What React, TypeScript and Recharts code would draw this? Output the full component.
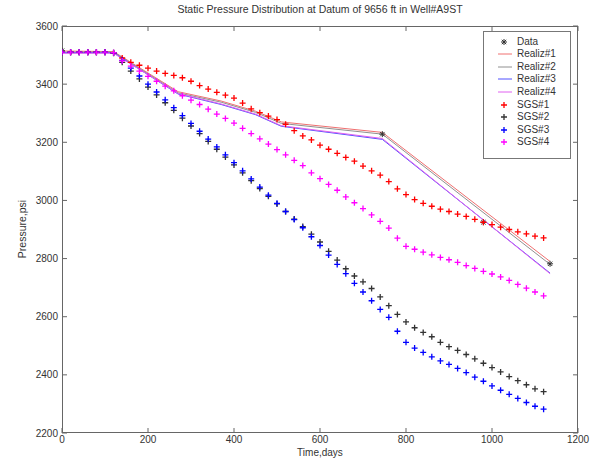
import React from 'react';
import { ComposedChart, Line, Scatter, XAxis, YAxis } from 'recharts';

const FONT = '"Liberation Sans", Arial, Helvetica, sans-serif';

// time grid of the simulated (SGS) series, days
const days = [
  0, 20, 40, 60, 80, 100, 120, 140, 160, 180, 200, 220, 240, 260, 280, 300, 320, 340, 360, 380,
  400, 420, 440, 460, 480, 500, 520, 540, 560, 580, 600, 620, 640, 660, 680, 700, 720, 740, 760, 780,
  800, 820, 840, 860, 880, 900, 920, 940, 960, 980, 1000, 1020, 1040, 1060, 1080, 1100, 1120,
];

const sgs1 = [
  3510, 3510, 3510, 3510, 3510, 3510, 3508, 3490, 3475, 3465, 3455, 3445, 3437, 3430, 3422, 3410, 3395, 3383, 3372, 3362,
  3352, 3335, 3315, 3302, 3290, 3278, 3262, 3240, 3222, 3208, 3190, 3176, 3162, 3148, 3135, 3118, 3102, 3087, 3065, 3040,
  3020, 3003, 2990, 2980, 2970, 2962, 2953, 2945, 2935, 2925, 2917, 2908, 2900, 2892, 2885, 2877, 2871,
];
const sgs2 = [
  3510, 3510, 3510, 3510, 3510, 3510, 3506, 3475, 3445, 3418, 3390, 3363, 3336, 3310, 3283, 3256, 3230, 3203, 3176, 3149,
  3122, 3095, 3068, 3041, 3014, 2988, 2962, 2936, 2910, 2884, 2857, 2825, 2795, 2765, 2740, 2720, 2697, 2668, 2638, 2608,
  2582, 2562, 2546, 2531, 2512, 2497, 2484, 2470, 2455, 2440, 2425, 2410, 2394, 2380, 2366, 2352, 2342,
];
const sgs3 = [
  3510, 3510, 3510, 3510, 3510, 3510, 3508, 3482, 3455, 3428, 3400, 3373, 3346, 3319, 3292, 3265, 3238, 3211, 3184, 3157,
  3130, 3102, 3074, 3046, 3018, 2990, 2962, 2934, 2906, 2875, 2845, 2812, 2780, 2748, 2715, 2685, 2655, 2625, 2598, 2550,
  2512, 2492, 2477, 2462, 2448, 2436, 2422, 2408, 2392, 2378, 2362, 2347, 2333, 2319, 2305, 2292, 2282,
];
const sgs4 = [
  3510, 3510, 3510, 3510, 3510, 3510, 3508, 3480, 3462, 3445, 3427, 3410, 3393, 3377, 3360, 3345, 3330, 3314, 3297, 3282,
  3266, 3248, 3230, 3212, 3194, 3175, 3157, 3138, 3120, 3095, 3075, 3055, 3035, 3012, 2992, 2972, 2950, 2928, 2905, 2870,
  2842, 2832, 2822, 2813, 2804, 2796, 2787, 2776, 2766, 2756, 2747, 2737, 2725, 2711, 2698, 2685, 2672,
];

// realization lines
const realizDays = [0, 120, 270, 370, 450, 510, 745, 1135];
const realiz1 = [3514, 3512, 3374, 3342, 3307, 3270, 3234, 2790];
const realiz2 = [3510, 3510, 3370, 3338, 3303, 3265, 3228, 2780];
const realiz3 = [3508, 3508, 3366, 3330, 3295, 3255, 3210, 2750];
const realiz4 = [3506, 3506, 3368, 3332, 3297, 3257, 3213, 2748];

// measured data
const dataDays = [0, 745, 980, 1135];
const dataPressure = [3515, 3228, 2925, 2782];

const xTicks = [0, 200, 400, 600, 800, 1000, 1200];
const yTicks = [2200, 2400, 2600, 2800, 3000, 3200, 3400, 3600];

const toPoints = (xs: number[], ys: number[]) => xs.map((x, i) => ({ x, y: ys[i] }));

const sgsSeries = [
  { name: 'SGS#1', values: sgs1, color: '#ff0000' },
  { name: 'SGS#2', values: sgs2, color: '#333333' },
  { name: 'SGS#3', values: sgs3, color: '#0000ff' },
  { name: 'SGS#4', values: sgs4, color: '#ff00ff' },
];
const realizSeries = [
  { name: 'Realiz#1', values: realiz1, color: '#f07070' },
  { name: 'Realiz#2', values: realiz2, color: '#909090' },
  { name: 'Realiz#3', values: realiz3, color: '#5050ff' },
  { name: 'Realiz#4', values: realiz4, color: '#e060f0' },
];

// plot frame (MATLAB box)
const PLOT = { left: 62, top: 26, right: 578, bottom: 433 };
const AXIS_COLOR = '#666';

function Plus(props: any) {
  const { cx, cy, fill } = props;
  if (cx == null || cy == null) return null;
  return <path d={`M${cx - 3},${cy}h6M${cx},${cy - 3}v6`} stroke={fill} strokeWidth={1.3} fill="none" />;
}

function Star(props: any) {
  const { cx, cy, fill } = props;
  if (cx == null || cy == null) return null;
  return (
    <path
      d={`M${cx - 3},${cy}h6M${cx},${cy - 3}v6M${cx - 2.2},${cy - 2.2}l4.4,4.4M${cx - 2.2},${cy + 2.2}l4.4,-4.4`}
      stroke={fill}
      strokeWidth={1}
      fill="none"
    />
  );
}

// bottom tick: label + inward tick at bottom and top of the box
function XTick(props: any) {
  const { x, payload } = props;
  return (
    <g>
      <line x1={x} x2={x} y1={PLOT.bottom} y2={PLOT.bottom - 5} stroke={AXIS_COLOR} />
      <line x1={x} x2={x} y1={PLOT.top} y2={PLOT.top + 5} stroke={AXIS_COLOR} />
      <text x={x} y={PLOT.bottom + 3} dy="0.71em" textAnchor="middle" fontSize={10} fill="#333" fontFamily={FONT}>
        {payload.value}
      </text>
    </g>
  );
}

// left tick: label + inward tick at left and right of the box
function YTick(props: any) {
  const { y, payload } = props;
  return (
    <g>
      <line x1={PLOT.left} x2={PLOT.left + 5} y1={y} y2={y} stroke={AXIS_COLOR} />
      <line x1={PLOT.right} x2={PLOT.right - 5} y1={y} y2={y} stroke={AXIS_COLOR} />
      <text x={PLOT.left - 4} y={y} dy="0.35em" textAnchor="end" fontSize={10} fill="#333" fontFamily={FONT}>
        {payload.value}
      </text>
    </g>
  );
}

function LegendBox() {
  const rows = [
    { name: 'Data', kind: 'star', color: '#333' },
    ...realizSeries.map(s => ({ name: s.name, kind: 'line', color: s.color })),
    ...sgsSeries.map(s => ({ name: s.name, kind: 'plus', color: s.color })),
  ];
  return (
    <div
      style={{
        position: 'absolute', left: 483, top: 31, width: 88, height: 128,
        border: '1px solid #777', background: '#fff', boxSizing: 'border-box',
      }}
    >
      {rows.map((r, i) => (
        <div key={r.name} style={{ position: 'absolute', left: 0, top: 3.5 + i * 12.6, height: 12, width: 88 }}>
          <svg width={30} height={12} style={{ position: 'absolute', left: 10, top: 0 }}>
            {r.kind === 'line' && <line x1={4} x2={18} y1={6} y2={6} stroke={r.color} strokeWidth={1} />}
            {r.kind === 'plus' && <Plus cx={10} cy={6} fill={r.color} />}
            {r.kind === 'star' && <Star cx={10} cy={6} fill={r.color} />}
          </svg>
          <span style={{ position: 'absolute', left: 33, top: 0, fontSize: 10, lineHeight: '12px', color: '#333', fontFamily: FONT }}>
            {r.name}
          </span>
        </div>
      ))}
    </div>
  );
}

export default function App() {
  return (
    <div style={{ position: 'absolute', left: 0, top: 0, width: 592, height: 469, background: '#fff', fontFamily: FONT }}>
      <div style={{ position: 'absolute', left: 62, width: 516, top: 3, textAlign: 'center', fontSize: 10.5, color: '#333' }}>
        Static Pressure Distribution at Datum of 9656 ft in Well#A9ST
      </div>
      <div
        style={{
          position: 'absolute', left: PLOT.left, top: PLOT.top,
          width: PLOT.right - PLOT.left, height: PLOT.bottom - PLOT.top,
          border: `1px solid ${AXIS_COLOR}`, boxSizing: 'border-box',
        }}
      />
      <div style={{ position: 'absolute', left: 0, top: 0 }}>
        <ComposedChart width={592} height={469} margin={{ top: 26, right: 14, bottom: 0, left: 22 }}>
          <XAxis
            dataKey="x" type="number" domain={[0, 1200]} ticks={xTicks} allowDataOverflow
            height={36} tickSize={0} tickMargin={0} tickLine={false} axisLine={false} tick={<XTick />} interval={0}
          />
          <YAxis
            type="number" domain={[2200, 3600]} ticks={yTicks} allowDataOverflow
            width={40} tickSize={0} tickMargin={0} tickLine={false} axisLine={false} tick={<YTick />} interval={0}
          />
          <Scatter
            name="Data" data={toPoints(dataDays, dataPressure)} dataKey="y"
            fill="#333" shape={<Star />} isAnimationActive={false}
          />
          {realizSeries.map(s => (
            <Line
              key={s.name} name={s.name} data={toPoints(realizDays, s.values)} dataKey="y"
              type="linear" stroke={s.color} strokeWidth={1} dot={false} activeDot={false} isAnimationActive={false}
            />
          ))}
          {sgsSeries.map(s => (
            <Scatter
              key={s.name} name={s.name} data={toPoints(days, s.values)} dataKey="y"
              fill={s.color} shape={<Plus />} isAnimationActive={false}
            />
          ))}
        </ComposedChart>
      </div>
      <div
        style={{
          position: 'absolute', left: 22, top: 229, transform: 'translate(-50%, -50%) rotate(-90deg)',
          fontSize: 10.5, color: '#333', whiteSpace: 'nowrap',
        }}
      >
        Pressure,psi
      </div>
      <div
        style={{
          position: 'absolute', left: 62, width: 516, top: 447, textAlign: 'center',
          fontSize: 10, lineHeight: '11px', color: '#333',
        }}
      >
        Time,days
      </div>
      <LegendBox />
    </div>
  );
}
